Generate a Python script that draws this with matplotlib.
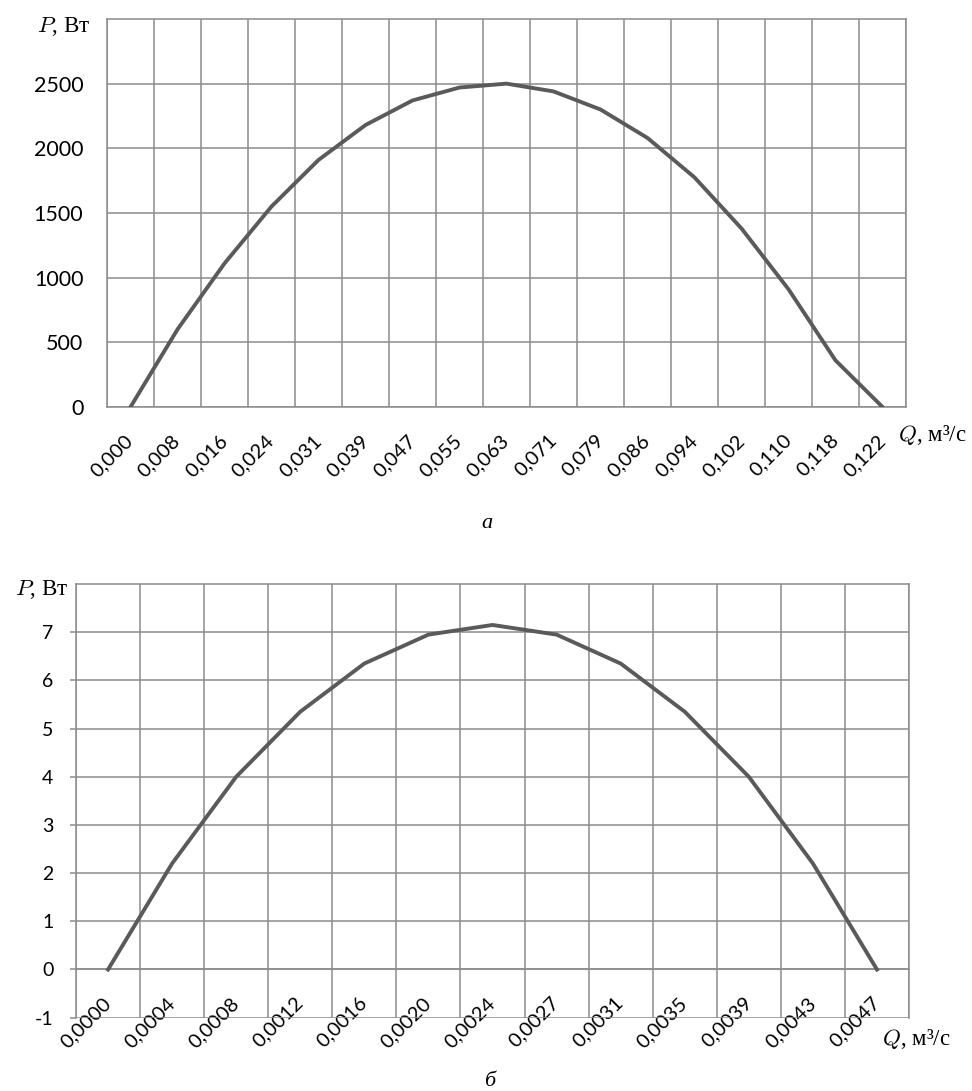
import matplotlib
matplotlib.use('Agg')
import matplotlib.pyplot as plt
import numpy as np

plt.rcParams['font.family'] = 'Lato'
plt.rcParams['mathtext.fontset'] = 'cm'
plt.rcParams['axes.unicode_minus'] = False

#Data for chart a:
q_a = ['0,000', '0,008', '0,016', '0,024', '0,031', '0,039', '0,047', '0,055', '0,063',
       '0,071', '0,079', '0,086', '0,094', '0,102', '0,110', '0,118', '0,122']
p_a = [0, 600, 1110, 1550, 1910, 2180, 2370, 2470, 2500, 2440, 2300, 2080, 1775, 1380, 910, 360, 0]
yt_a = [0, 500, 1000, 1500, 2000, 2500]

#Data for chart b:
q_b = ['0,0000', '0,0004', '0,0008', '0,0012', '0,0016', '0,0020', '0,0024',
       '0,0027', '0,0031', '0,0035', '0,0039', '0,0043', '0,0047']
p_b = [0, 2.2, 4.0, 5.35, 6.35, 6.95, 7.15, 6.95, 6.35, 5.35, 4.0, 2.2, 0]
yt_b = [-1, 0, 1, 2, 3, 4, 5, 6, 7]

grid_c = '#8c8c8c'
line_c = '#5a5a5a'

#Draw one chart:
def draw(ax, q, p, yt, ylim, ysize):
    x = np.arange(len(q))
    ax.plot(x, p, color=line_c, lw=2.8, solid_joinstyle='round', zorder=3)
    ax.set_xlim(-0.5, len(q) - 0.5)
    ax.set_ylim(*ylim)
    ax.set_xticks(x)
    ax.set_xticklabels(q, rotation=45, ha='right', va='center', rotation_mode='anchor', fontsize=14.5)
    ax.set_xticks(np.arange(len(q) + 1) - 0.5, minor=True)
    ax.set_yticks(yt)
    ax.tick_params(axis='y', labelsize=ysize, colors=grid_c, labelcolor='black')
    ax.grid(True, which='minor', axis='x', color=grid_c, lw=1.1)
    ax.grid(True, which='major', axis='y', color=grid_c, lw=1.1)
    ax.tick_params(axis='x', which='both', length=0, pad=22)
    for s in ax.spines.values():
        s.set_color(grid_c)
        s.set_linewidth(1.1)

fig = plt.figure(figsize=(9.72, 10.91), dpi=100)

ax1 = fig.add_axes([0.1101, 0.6270, 0.8220, 0.3556])
draw(ax1, q_a, p_a, yt_a, (0, 3000), 15.5)
ax1.tick_params(axis='y', length=0, pad=17)

ax2 = fig.add_axes([0.0782, 0.0672, 0.8570, 0.3975])
#category labels sit on the zero line
ax2.spines['bottom'].set_position(('data', 0))
draw(ax2, q_b, p_b, yt_b, (-1, 8), 14)
ax2.tick_params(axis='y', length=4.3, width=1.1, pad=12)

#Axis titles and captions:
W, H = 972, 1091
fig.text(90 / W, 1 - 32 / H, r'$P$, Вт', family='Liberation Serif', fontsize=16.5, ha='right', va='baseline')
fig.text(898 / W, 1 - 441 / H, r'$Q$, м³/с', family='Liberation Serif', fontsize=16.5, ha='left', va='baseline')
fig.text(487 / W, 1 - 528 / H, 'а', family='Liberation Serif', style='italic', fontsize=16, ha='center', va='baseline')

fig.text(68 / W, 1 - 595 / H, r'$P$, Вт', family='Liberation Serif', fontsize=16.5, ha='right', va='baseline')
fig.text(882 / W, 1 - 1045 / H, r'$Q$, м³/с', family='Liberation Serif', fontsize=16.5, ha='left', va='baseline')
fig.text(490 / W, 1 - 1086 / H, 'б', family='Liberation Serif', style='italic', fontsize=16, ha='center', va='baseline')

plt.savefig('out.png', dpi=100)
